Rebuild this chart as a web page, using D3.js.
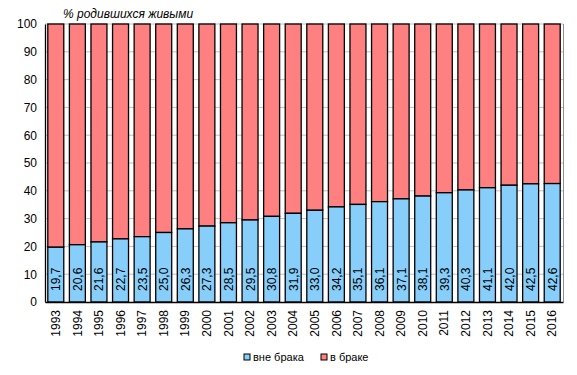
<!DOCTYPE html>
<html><head><meta charset="utf-8">
<script src="https://cdn.jsdelivr.net/npm/d3@7"></script>
<style>body{margin:0;background:#fff}svg{display:block;font-family:Arial,"Liberation Sans",sans-serif}</style>
</head><body>
<script>
const years = ["1993","1994","1995","1996","1997","1998","1999","2000","2001","2002","2003","2004","2005","2006","2007","2008","2009","2010","2011","2012","2013","2014","2015","2016"];
const outside = [19.7,20.6,21.6,22.7,23.5,25.0,26.3,27.3,28.5,29.5,30.8,31.9,33.0,34.2,35.1,36.1,37.1,38.1,39.3,40.3,41.1,42.0,42.5,42.6];
const yTicks = [0,10,20,30,40,50,60,70,80,90,100];
const seriesNames = ["вне брака","в браке"];
const colors = ["#87CEFA","#FF8080"];

const W=577,H=375, L=45, R=563, T=24, B=302;
const svg=d3.select("body").append("svg").attr("width",W).attr("height",H);
const x=d3.scaleBand().domain(years).range([L,R]).paddingInner(0.26).paddingOuter(0.13);
const y=d3.scaleLinear().domain([0,100]).range([B,T]);

// gridlines
svg.append("g").selectAll("line").data(yTicks.filter(d=>d>0)).join("line")
 .attr("x1",L).attr("x2",R).attr("y1",d=>y(d)).attr("y2",d=>y(d))
 .attr("stroke","#c0c0c0").attr("stroke-width",1);
svg.append("line").attr("x1",R+0.5).attr("x2",R+0.5).attr("y1",T).attr("y2",B).attr("stroke","#909090");

const fmt=v=>v.toFixed(1).replace(".",",");
const g=svg.append("g");
years.forEach((yr,i)=>{
  const v=outside[i];
  g.append("rect").attr("x",x(yr)).attr("width",x.bandwidth()).attr("y",y(100)).attr("height",y(v)-y(100))
   .attr("fill",colors[1]).attr("stroke","#000").attr("stroke-width",1.3);
  g.append("rect").attr("x",x(yr)).attr("width",x.bandwidth()).attr("y",y(v)).attr("height",y(0)-y(v))
   .attr("fill",colors[0]).attr("stroke","#000").attr("stroke-width",1.3);
  const cx=x(yr)+x.bandwidth()/2;
  g.append("text").attr("transform",`translate(${cx+4.5},291) rotate(-90)`)
   .attr("font-size",12).attr("fill","#000").text(fmt(v));
});

// axes
const ya=svg.append("g").attr("transform",`translate(${L},0)`)
 .call(d3.axisLeft(y).tickValues(yTicks).tickSize(0).tickPadding(8));
ya.select(".domain").attr("stroke","#000").attr("stroke-width",1.3);
ya.selectAll("text").attr("font-size",12).attr("fill","#000").attr("font-family","Arial,'Liberation Sans',sans-serif");

const xa=svg.append("g").attr("transform",`translate(0,${B})`)
 .call(d3.axisBottom(x).tickSize(0));
xa.select(".domain").attr("stroke","#000").attr("stroke-width",1.3);
xa.selectAll("text").attr("font-size",12).attr("fill","#000").attr("font-family","Arial,'Liberation Sans',sans-serif")
 .attr("text-anchor","end").attr("transform","rotate(-90)").attr("x",-8).attr("y",0).attr("dy","0.35em").attr("dx",0);

// title
svg.append("text").attr("x",63).attr("y",18).attr("font-size",12).attr("font-style","italic").attr("fill","#000")
 .text("% родившихся живыми");

// legend
const leg=[{x:244},{x:321}];
seriesNames.forEach((n,i)=>{
  svg.append("rect").attr("x",leg[i].x).attr("y",354).attr("width",6).attr("height",6)
   .attr("fill",colors[i]).attr("stroke","#000").attr("stroke-width",1);
  svg.append("text").attr("x",leg[i].x+9).attr("y",361).attr("font-size",11).attr("fill","#000").text(n);
});
</script>
</body></html>
